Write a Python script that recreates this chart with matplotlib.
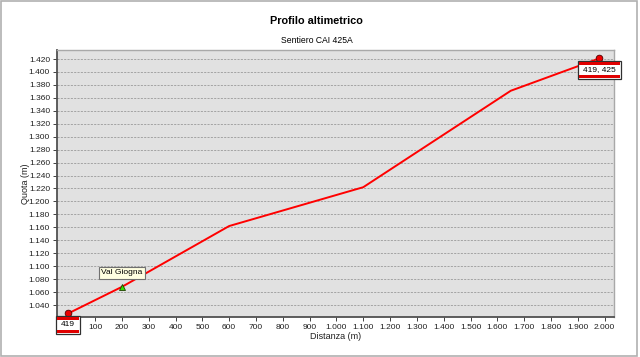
#!/usr/bin/env python3
# Elevation profile, CAI 425A trail

import matplotlib
matplotlib.use("Agg")
import matplotlib.pyplot as plt
from matplotlib.patches import Rectangle
from matplotlib.ticker import FuncFormatter, FixedLocator

dist = [0, 200, 600, 1100, 1650, 1980]
quota = [1027, 1068, 1162, 1222, 1371, 1421]

wp_name = "Val Giogna"
wp_dist = 200
wp_quota = 1068

start_label = "419"
end_label = "419, 425"

y_ticks = list(range(1040, 1421, 20))
x_ticks = list(range(100, 2001, 100))

plt.rcParams['font.family'] = ['Liberation Sans', 'DejaVu Sans']


def it_fmt(v, pos=None):
	return f"{v:,.0f}".replace(",", ".")


fig = plt.figure(figsize=(6.4, 3.57), dpi=100)
fig.patches.append(Rectangle((0.0015, 0.002), 0.9935, 0.994, transform=fig.transFigure,
	fill=False, edgecolor='#b0b0b0', linewidth=1.2))

ax = fig.add_axes([0.089, 0.113, 0.870, 0.747])
ax.set_facecolor('#e1e1e1')

ax.plot(dist, quota, color='#ff0000', linewidth=1.4, zorder=3)
ax.plot([dist[0], dist[-1]], [quota[0], quota[-1]], 'o', color='#ee0000',
	markeredgecolor='#500000', markersize=4.8, markeredgewidth=0.6, zorder=4)
ax.plot([wp_dist], [wp_quota], '^', color='#33dd00', markeredgecolor='#204000',
	markersize=5, markeredgewidth=0.6, zorder=4)

ax.set_xlim(-42, 2034)
ax.set_ylim(1022, 1434)
ax.yaxis.set_major_locator(FixedLocator(y_ticks))
ax.xaxis.set_major_locator(FixedLocator(x_ticks))
ax.yaxis.set_major_formatter(FuncFormatter(it_fmt))
ax.xaxis.set_major_formatter(FuncFormatter(it_fmt))
ax.tick_params(labelsize=6, length=3, width=0.7, color='#404040', pad=2, labelcolor='#202020')
ax.yaxis.grid(True, linestyle=(0, (2.5, 1.5)), color='#9a9a9a', linewidth=0.6)
ax.set_axisbelow(True)

for s in ('left', 'bottom'):
	ax.spines[s].set_color('#505050')
	ax.spines[s].set_linewidth(1.3)
for s in ('top', 'right'):
	ax.spines[s].set_color('#a8a8a8')
	ax.spines[s].set_linewidth(1.0)

ax.set_xlabel("Distanza (m)", fontsize=6.5, labelpad=1, color='#202020')
ax.set_ylabel("Quota (m)", fontsize=6.5, labelpad=-1, color='#202020')

fig.text(0.495, 0.94, "Profilo altimetrico", ha='center', va='center',
	fontsize=7.8, fontweight='bold')
fig.text(0.495, 0.887, "Sentiero CAI 425A", ha='center', va='center', fontsize=6.2)

ax.annotate(wp_name, (wp_dist, wp_quota), xytext=(0, 14), textcoords='offset pixels',
	ha='center', va='center', fontsize=6, zorder=6,
	bbox=dict(boxstyle='square,pad=0.3', facecolor='#ffffe1', edgecolor='#707070', linewidth=0.8))

labels = []
for txt, x, y in [(start_label, dist[0], quota[0]), (end_label, dist[-1], quota[-1])]:
	t = ax.annotate(txt, (x, y), xytext=(0, -11.5), textcoords='offset pixels',
		ha='center', va='center', fontsize=6, zorder=6, annotation_clip=False,
		bbox=dict(boxstyle='square,pad=0.62', facecolor='white', edgecolor='#303030', linewidth=0.9))
	labels.append(t)

fig.canvas.draw()
inv = fig.transFigure.inverted()
for t in labels:
	bb = t.get_bbox_patch().get_window_extent()
	band = 2.5
	for y0 in (bb.y0 + 1, bb.y1 - 1 - band):
		(fx0, fy0) = inv.transform((bb.x0 + 1, y0))
		(fx1, fy1) = inv.transform((bb.x1 - 1, y0 + band))
		fig.patches.append(Rectangle((fx0, fy0), fx1 - fx0, fy1 - fy0, transform=fig.transFigure,
			facecolor='#e00000', edgecolor='none', zorder=10))

fig.savefig("out.png", dpi=100)
plt.close(fig)
